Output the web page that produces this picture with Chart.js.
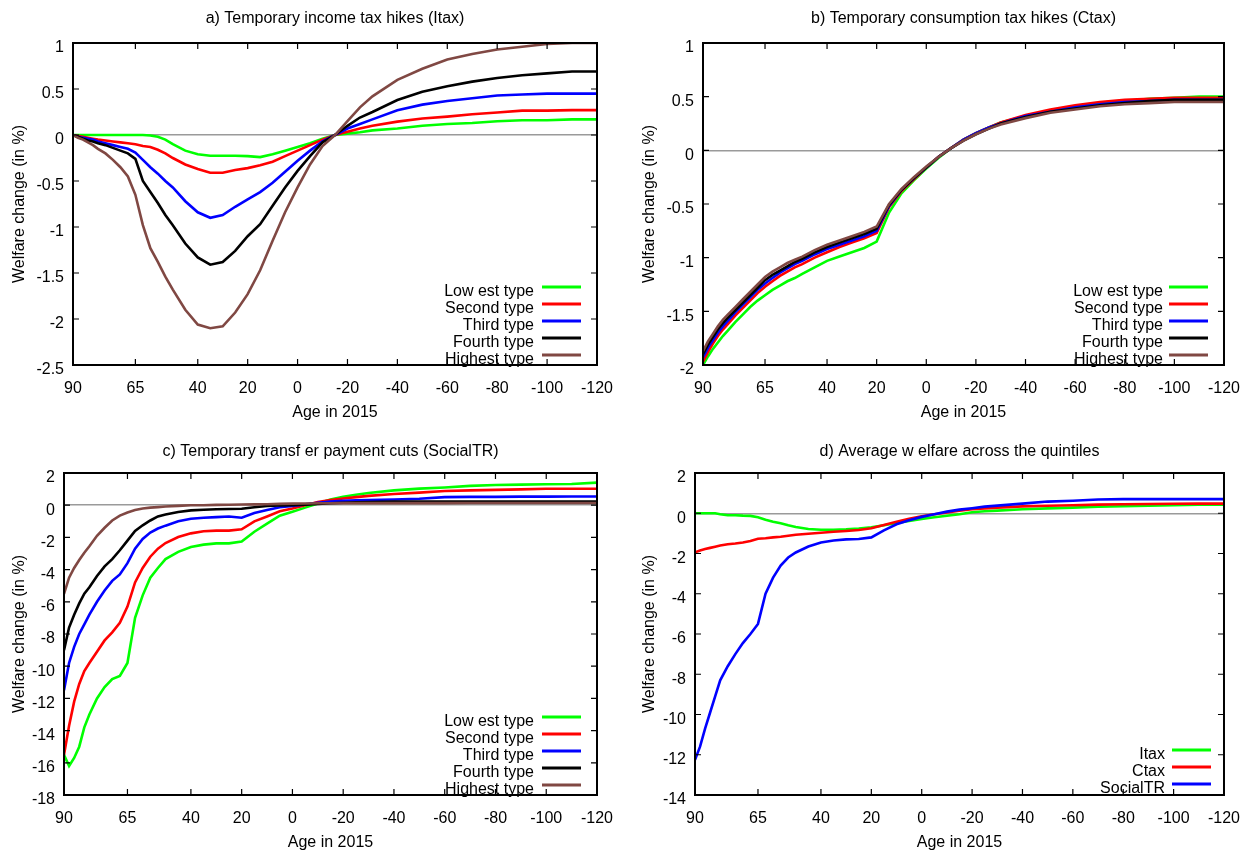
<!DOCTYPE html>
<html>
<head>
<meta charset="utf-8">
<script src="https://cdn.jsdelivr.net/npm/chart.js@4.4.1/dist/chart.umd.min.js"></script>
<style>
  body { margin: 0; background: #fff; }
  #wrap { position: relative; width: 1246px; height: 852px; }
  canvas { position: absolute; }
</style>
</head>
<body>
<div id="wrap">
  <canvas id="panelA" width="623" height="422" style="left:0;top:0"></canvas>
  <canvas id="panelB" width="623" height="422" style="left:623px;top:0"></canvas>
  <canvas id="panelC" width="623" height="422" style="left:0;top:430px"></canvas>
  <canvas id="panelD" width="623" height="422" style="left:623px;top:430px"></canvas>
</div>
<script>
// ages in 2015 (x axis runs from 90 down to -120)
const ages = [90, 88, 86, 84, 82, 80, 77, 74, 71, 68, 65, 62, 59, 56, 53, 50,
  45, 40, 35, 30, 25, 20, 15, 10, 5, 0, -5, -10, -15, -20, -25, -30,
  -40, -50, -60, -70, -80, -90, -100, -110, -120];
const xTicks = [90, 65, 40, 20, 0, -20, -40, -60, -80, -100, -120];
const typeNames = ["Low est type", "Second type", "Third type", "Fourth type", "Highest type"];
const avgNames = ["Itax", "Ctax", "SocialTR"];
const typeColors = ["#00ff00", "#ff0000", "#0000ff", "#000000", "#804843"];

// a) Itax
const itaxLowest = [0, 0, 0, 0, 0, 0, 0, 0, 0, 0, 0, 0, -0.005, -0.02, -0.05, -0.1,
  -0.17, -0.21, -0.225, -0.225, -0.225, -0.23, -0.24, -0.21, -0.17, -0.13, -0.09, -0.04, 0, 0.015, 0.03, 0.05,
  0.07, 0.1, 0.12, 0.13, 0.15, 0.16, 0.16, 0.17, 0.17];
const itaxSecond = [0, -0.01, -0.02, -0.03, -0.04, -0.05, -0.06, -0.07, -0.08, -0.09, -0.1, -0.12, -0.13, -0.16, -0.2, -0.25,
  -0.32, -0.37, -0.41, -0.41, -0.38, -0.36, -0.33, -0.29, -0.23, -0.17, -0.11, -0.05, 0, 0.035, 0.07, 0.1,
  0.145, 0.18, 0.2, 0.225, 0.245, 0.265, 0.265, 0.27, 0.27];
const itaxThird = [0, -0.02, -0.03, -0.04, -0.05, -0.07, -0.09, -0.11, -0.13, -0.15, -0.19, -0.27, -0.35, -0.42, -0.5, -0.57,
  -0.72, -0.84, -0.9, -0.87, -0.78, -0.7, -0.62, -0.52, -0.4, -0.28, -0.17, -0.07, 0, 0.07, 0.12, 0.17,
  0.27, 0.33, 0.37, 0.4, 0.43, 0.44, 0.45, 0.45, 0.45];
const itaxFourth = [0, -0.02, -0.04, -0.06, -0.07, -0.09, -0.11, -0.14, -0.17, -0.2, -0.26, -0.5, -0.62, -0.74, -0.87, -0.98,
  -1.18, -1.33, -1.41, -1.38, -1.26, -1.1, -0.97, -0.77, -0.57, -0.39, -0.23, -0.08, 0, 0.1, 0.19, 0.25,
  0.38, 0.47, 0.53, 0.58, 0.62, 0.65, 0.67, 0.69, 0.69];
const itaxHighest = [0, -0.03, -0.05, -0.08, -0.11, -0.15, -0.2, -0.27, -0.35, -0.45, -0.65, -0.98, -1.23, -1.38, -1.54, -1.68,
  -1.9, -2.06, -2.1, -2.08, -1.93, -1.73, -1.47, -1.15, -0.84, -0.57, -0.32, -0.12, 0, 0.15, 0.3, 0.42,
  0.6, 0.72, 0.82, 0.88, 0.93, 0.96, 0.99, 1.0, 1.0];

// b) Ctax
const ctaxLowest = [-2.0, -1.92, -1.85, -1.79, -1.73, -1.68, -1.6, -1.53, -1.46, -1.4, -1.35, -1.3, -1.26, -1.22, -1.19, -1.15,
  -1.09, -1.03, -0.99, -0.95, -0.91, -0.85, -0.58, -0.4, -0.28, -0.17, -0.07, 0.02, 0.1, 0.16, 0.21, 0.26,
  0.32, 0.37, 0.41, 0.44, 0.46, 0.48, 0.49, 0.5, 0.5];
const ctaxSecond = [-1.97, -1.88, -1.8, -1.73, -1.67, -1.62, -1.54, -1.47, -1.4, -1.33, -1.27, -1.22, -1.17, -1.13, -1.09, -1.06,
  -1.0, -0.95, -0.9, -0.86, -0.82, -0.77, -0.53, -0.38, -0.27, -0.16, -0.06, 0.02, 0.1, 0.16, 0.21, 0.26,
  0.33, 0.38, 0.42, 0.45, 0.47, 0.48, 0.49, 0.49, 0.49];
const ctaxThird = [-1.93, -1.84, -1.77, -1.7, -1.64, -1.59, -1.51, -1.44, -1.37, -1.3, -1.24, -1.19, -1.14, -1.1, -1.06, -1.03,
  -0.97, -0.92, -0.88, -0.84, -0.8, -0.75, -0.52, -0.37, -0.26, -0.16, -0.06, 0.02, 0.1, 0.16, 0.21, 0.25,
  0.32, 0.36, 0.4, 0.43, 0.45, 0.46, 0.47, 0.47, 0.47];
const ctaxFourth = [-1.9, -1.81, -1.74, -1.67, -1.61, -1.56, -1.49, -1.42, -1.35, -1.28, -1.21, -1.16, -1.12, -1.08, -1.04, -1.01,
  -0.95, -0.9, -0.86, -0.82, -0.78, -0.73, -0.51, -0.37, -0.26, -0.16, -0.06, 0.02, 0.09, 0.15, 0.2, 0.25,
  0.31, 0.36, 0.39, 0.42, 0.44, 0.46, 0.47, 0.47, 0.47];
const ctaxHighest = [-1.87, -1.78, -1.71, -1.64, -1.58, -1.53, -1.46, -1.39, -1.32, -1.25, -1.18, -1.13, -1.09, -1.05, -1.02, -0.99,
  -0.93, -0.88, -0.84, -0.8, -0.76, -0.71, -0.5, -0.36, -0.25, -0.15, -0.06, 0.02, 0.09, 0.15, 0.2, 0.24,
  0.3, 0.35, 0.38, 0.41, 0.43, 0.44, 0.45, 0.45, 0.45];

// c) SocialTR
const socialLowest = [-15.5, -16.2, -15.7, -15.0, -13.8, -13.0, -12.0, -11.3, -10.8, -10.6, -9.8, -7.0, -5.6, -4.5, -3.9, -3.35,
  -2.9, -2.6, -2.45, -2.37, -2.37, -2.25, -1.65, -1.15, -0.65, -0.4, -0.15, 0.1, 0.35, 0.52, 0.65, 0.76,
  0.92, 1.03, 1.1, 1.2, 1.25, 1.28, 1.3, 1.32, 1.4];
const socialSecond = [-15.5, -13.7, -12.2, -11.1, -10.3, -9.8, -9.1, -8.4, -7.9, -7.3, -6.3, -4.8, -3.9, -3.2, -2.7, -2.35,
  -1.98, -1.75, -1.62, -1.58, -1.58, -1.5, -1.0, -0.7, -0.38, -0.2, 0.0, 0.2, 0.32, 0.42, 0.5, 0.58,
  0.7, 0.78, 0.88, 0.92, 0.95, 0.98, 1.02, 1.02, 1.02];
const socialThird = [-11.5, -9.8, -8.8, -8.0, -7.4, -6.8, -6.0, -5.3, -4.7, -4.3, -3.6, -2.7, -2.1, -1.7, -1.45, -1.27,
  -1.0, -0.84, -0.78, -0.74, -0.7, -0.78, -0.48, -0.3, -0.13, -0.05, 0.05, 0.15, 0.22, 0.28, 0.3, 0.32,
  0.35, 0.4, 0.5, 0.52, 0.52, 0.53, 0.53, 0.54, 0.54];
const socialFourth = [-9.0, -7.6, -6.8, -6.1, -5.5, -5.1, -4.4, -3.8, -3.35, -2.8, -2.2, -1.6, -1.25, -0.95, -0.7, -0.58,
  -0.42, -0.32, -0.28, -0.25, -0.24, -0.22, -0.13, -0.05, -0.02, 0.0, 0.03, 0.08, 0.12, 0.15, 0.18, 0.2,
  0.22, 0.22, 0.23, 0.23, 0.23, 0.23, 0.23, 0.23, 0.23];
const socialHighest = [-5.5, -4.5, -3.9, -3.4, -2.95, -2.55, -1.9, -1.4, -0.95, -0.65, -0.45, -0.3, -0.2, -0.15, -0.12, -0.08,
  -0.04, 0.0, 0.0, 0.02, 0.03, 0.04, 0.05, 0.06, 0.08, 0.1, 0.11, 0.12, 0.12, 0.13, 0.13, 0.13,
  0.13, 0.13, 0.13, 0.14, 0.14, 0.14, 0.14, 0.14, 0.14];

// d) averages across quintiles
const avgItax = [0, 0, 0, 0, 0, -0.05, -0.1, -0.1, -0.12, -0.13, -0.2, -0.32, -0.42, -0.5, -0.6, -0.68,
  -0.78, -0.82, -0.82, -0.8, -0.76, -0.7, -0.6, -0.48, -0.38, -0.28, -0.2, -0.12, -0.05, 0.05, 0.1, 0.13,
  0.2, 0.24, 0.28, 0.32, 0.35, 0.38, 0.4, 0.42, 0.43];
const avgCtax = [-1.94, -1.85, -1.78, -1.72, -1.66, -1.6, -1.54, -1.5, -1.45, -1.38, -1.27, -1.24, -1.2, -1.17, -1.12, -1.07,
  -1.02, -0.97, -0.92, -0.88, -0.83, -0.75, -0.58, -0.42, -0.28, -0.15, -0.05, 0.04, 0.12, 0.2, 0.24, 0.28,
  0.34, 0.37, 0.4, 0.43, 0.45, 0.46, 0.47, 0.48, 0.48];
const avgSocial = [-12.25, -11.6, -10.7, -9.9, -9.1, -8.3, -7.6, -7.0, -6.45, -6.0, -5.5, -4.0, -3.2, -2.6, -2.2, -1.95,
  -1.65, -1.45, -1.35, -1.3, -1.28, -1.2, -0.85, -0.55, -0.35, -0.18, -0.05, 0.08, 0.18, 0.25, 0.33, 0.38,
  0.48, 0.58, 0.62, 0.68, 0.7, 0.7, 0.7, 0.7, 0.7];

const FONT = "'Liberation Sans', Arial, sans-serif";

// gnuplot-like title, frame, inward tick marks and key inside the plot
const framePlugin = {
  id: 'frame',
  afterDatasetsDraw(chart, args, opts) {
    const { ctx, chartArea: a, scales } = chart;
    ctx.save();
    ctx.strokeStyle = '#000';
    ctx.lineWidth = 1.2;
    ctx.beginPath();
    scales.x.ticks.forEach(t => {
      const px = scales.x.getPixelForValue(t.value);
      ctx.moveTo(px, a.bottom); ctx.lineTo(px, a.bottom - 6);
      ctx.moveTo(px, a.top); ctx.lineTo(px, a.top + 6);
    });
    scales.y.ticks.forEach(t => {
      const py = scales.y.getPixelForValue(t.value);
      ctx.moveTo(a.left, py); ctx.lineTo(a.left + 6, py);
      ctx.moveTo(a.right, py); ctx.lineTo(a.right - 6, py);
    });
    ctx.stroke();
    ctx.lineWidth = 2;
    ctx.strokeRect(a.left, a.top, a.right - a.left, a.bottom - a.top);

    ctx.fillStyle = '#000';
    ctx.textBaseline = 'middle';
    ctx.font = "16px " + FONT;
    ctx.textAlign = 'center';
    ctx.fillText(opts.title, (a.left + a.right) / 2, opts.titleY);

    ctx.textAlign = 'right';
    ctx.lineWidth = 3;
    opts.labels.forEach((label, i) => {
      const y = opts.y0 + i * 17;
      ctx.fillText(label, opts.textRight, y + 5);
      ctx.strokeStyle = opts.colors[i];
      ctx.beginPath();
      ctx.moveTo(opts.x1, y);
      ctx.lineTo(opts.x2, y);
      ctx.stroke();
    });
    ctx.restore();
  }
};

function makePanel(canvasId, labels, colors, series, yMin, yMax, yStep, box, key) {
  const datasets = series.map((vals, i) => ({
    label: labels[i],
    data: ages.map((age, j) => ({ x: age, y: vals[j] })),
    borderColor: colors[i],
    borderWidth: 2.6,
    pointRadius: 0,
    tension: 0,
    fill: false,
    order: series.length - i
  }));

  new Chart(document.getElementById(canvasId), {
    type: 'line',
    data: { datasets: datasets },
    plugins: [framePlugin],
    options: {
      responsive: false,
      animation: false,
      layout: { padding: { left: 0, right: box.padRight, top: 43, bottom: 0 } },
      scales: {
        x: {
          type: 'linear',
          reverse: true,
          min: -120,
          max: 90,
          afterBuildTicks: scale => { scale.ticks = xTicks.map(v => ({ value: v })); },
          afterFit: scale => { scale.height = 57; },
          grid: { display: false },
          border: { display: false },
          ticks: {
            padding: 6,
            color: '#000',
            maxRotation: 0,
            autoSkip: false,
            font: { family: FONT, size: 16 },
            callback: v => String(v)
          },
          title: {
            display: true,
            text: 'Age in 2015',
            color: '#000',
            padding: { top: 2, bottom: 0 },
            font: { family: FONT, size: 16 }
          }
        },
        y: {
          min: yMin,
          max: yMax,
          afterFit: scale => { scale.width = box.left; },
          grid: {
            drawTicks: false,
            lineWidth: 1.5,
            color: c => (c.tick && c.tick.value === 0 ? '#9a9a9a' : 'rgba(0,0,0,0)')
          },
          border: { display: false },
          ticks: {
            stepSize: yStep,
            padding: 9,
            labelOffset: 5,
            color: '#000',
            font: { family: FONT, size: 16 },
            callback: v => String(Math.round(v * 100) / 100)
          },
          title: {
            display: true,
            text: 'Welfare change (in %)',
            color: '#000',
            padding: { top: box.yTitlePad, bottom: 0 },
            font: { family: FONT, size: 16 }
          }
        }
      },
      plugins: {
        legend: { display: false },
        tooltip: { enabled: false },
        title: { display: false },
        frame: key
      }
    }
  });
}

makePanel('panelA', typeNames, typeColors,
  [itaxLowest, itaxSecond, itaxThird, itaxFourth, itaxHighest], -2.5, 1, 0.5,
  { left: 73, padRight: 26, yTitlePad: 10 },
  { title: 'a) Temporary income tax hikes (Itax)', titleY: 19,
    labels: typeNames, colors: typeColors, textRight: 534, x1: 542, x2: 581, y0: 287 });

makePanel('panelB', typeNames, typeColors,
  [ctaxLowest, ctaxSecond, ctaxThird, ctaxFourth, ctaxHighest], -2, 1, 0.5,
  { left: 80, padRight: 18, yTitlePad: 17 },
  { title: 'b) Temporary consumption tax hikes (Ctax)', titleY: 19,
    labels: typeNames, colors: typeColors, textRight: 540, x1: 546, x2: 585, y0: 287 });

makePanel('panelC', typeNames, typeColors,
  [socialLowest, socialSecond, socialThird, socialFourth, socialHighest], -18, 2, 2,
  { left: 64, padRight: 26, yTitlePad: 10 },
  { title: 'c) Temporary transf er payment cuts (SocialTR)', titleY: 22,
    labels: typeNames, colors: typeColors, textRight: 534, x1: 542, x2: 581, y0: 287 });

makePanel('panelD', avgNames, typeColors.slice(0, 3),
  [avgItax, avgCtax, avgSocial], -14, 2, 2,
  { left: 72, padRight: 19, yTitlePad: 17 },
  { title: 'd) Average w elfare across the quintiles', titleY: 22,
    labels: avgNames, colors: typeColors.slice(0, 3), textRight: 542, x1: 549, x2: 588, y0: 320 });
</script>
</body>
</html>
